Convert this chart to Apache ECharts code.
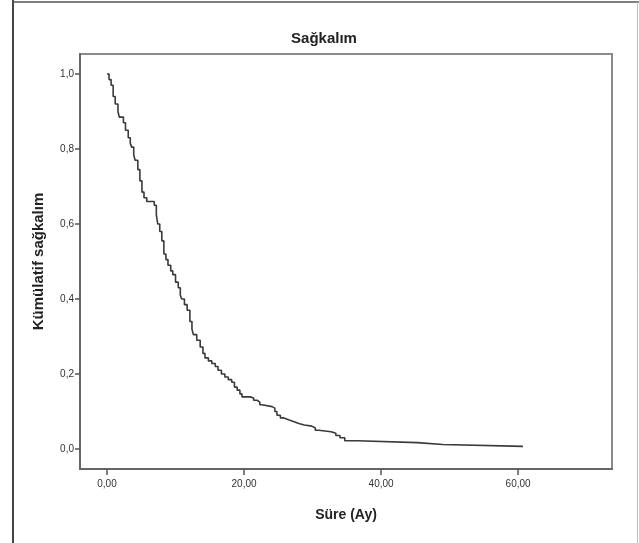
<!DOCTYPE html>
<html>
<head>
<meta charset="utf-8">
<script src="https://cdn.jsdelivr.net/npm/echarts@6/dist/echarts.min.js"></script>
<style>html,body{margin:0;padding:0;background:#fff;}#c{width:639px;height:543px;}</style>
</head>
<body>
<div id="c"></div>
<script>
// Kaplan-Meier survival estimates
const times = [0,0.3,0.6,0.9,1.2,1.6,1.8,2.4,2.7,3.1,3.4,3.6,3.9,4.1,4.5,4.8,5.1,5.4,5.8,6.9,7.2,7.4,7.7,8.0,8.3,8.6,8.9,9.3,9.6,10.0,10.4,10.7,10.9,11.3,11.7,12.1,12.4,12.6,13.1,13.6,14.0,14.3,14.8,15.3,15.8,16.2,16.7,17.2,17.7,18.2,18.6,19.0,19.4,19.7,20.9,21.4,21.9,22.3,22.6,24.1,24.5,24.8,25.3,25.8,26.5,27.3,28.0,28.8,29.9,30.4,30.9,32.7,33.4,34.0,34.7,36.6,45.3,49.0,60.7];
const survival = [1.0,0.985,0.97,0.94,0.92,0.90,0.885,0.87,0.85,0.83,0.815,0.805,0.785,0.77,0.745,0.715,0.685,0.67,0.66,0.65,0.625,0.60,0.58,0.555,0.52,0.505,0.49,0.475,0.465,0.445,0.43,0.41,0.40,0.385,0.37,0.34,0.32,0.305,0.29,0.272,0.255,0.243,0.235,0.228,0.22,0.21,0.20,0.192,0.185,0.178,0.165,0.157,0.147,0.139,0.136,0.13,0.125,0.118,0.113,0.109,0.10,0.09,0.083,0.078,0.073,0.068,0.064,0.061,0.056,0.05,0.046,0.042,0.036,0.03,0.022,0.017,0.012,0.007,0.007];
const xTicks = [0,20,40,60];
const yTicks = [0,0.2,0.4,0.6,0.8,1.0];

const data = times.map((t,i)=>[t, survival[i]]);
const chart = echarts.init(document.getElementById('c'));
const font = 'Liberation Sans, Arial, sans-serif';
chart.setOption({
  animation:false,
  backgroundColor:'#fff',
  title:{text:'Sağkalım', left:319, top:26, textAlign:'center',
    textStyle:{fontFamily:font, fontSize:15, fontWeight:'bold', color:'#222'}},
  grid:{left:80, right:27, top:54, bottom:74, show:true, borderColor:'#8a8a8a', borderWidth:2, backgroundColor:'#fff'},
  xAxis:{type:'value', min:-3.94, max:73.7,
    name:'Süre (Ay)', nameLocation:'middle', nameGap:39,
    nameTextStyle:{fontFamily:font, fontSize:14, fontWeight:'bold', color:'#222'},
    axisLine:{show:true, onZero:false, lineStyle:{color:'#666', width:2}},
    axisTick:{show:true, customValues:xTicks, length:6, lineStyle:{color:'#555', width:1.5}},
    axisLabel:{customValues:xTicks, fontFamily:font, fontSize:10, color:'#333', margin:10,
      formatter:v=>v.toFixed(2).replace('.',',')},
    splitLine:{show:false}},
  yAxis:{type:'value', min:-0.0533, max:1.0533,
    name:'Kümülatif sağkalım', nameLocation:'middle', nameGap:34, nameRotate:90,
    nameTextStyle:{fontFamily:font, fontSize:15, fontWeight:'bold', color:'#222'},
    axisLine:{show:true, onZero:false, lineStyle:{color:'#666', width:2}},
    axisTick:{show:true, customValues:yTicks, length:5, lineStyle:{color:'#555', width:1.5}},
    axisLabel:{customValues:yTicks, fontFamily:font, fontSize:10, color:'#333', margin:6,
      formatter:v=>v.toFixed(1).replace('.',',')},
    splitLine:{show:false}},
  series:[{type:'line', step:'end', data:data, showSymbol:false, symbol:'none',
    lineStyle:{color:'#3a3a3a', width:1.6}}],
  graphic:[
    {type:'line', shape:{x1:13,y1:0,x2:13,y2:543}, style:{stroke:'#444', lineWidth:2}},
    {type:'line', shape:{x1:13,y1:2,x2:639,y2:2}, style:{stroke:'#555', lineWidth:1.5}},
    {type:'line', shape:{x1:637.5,y1:2,x2:637.5,y2:543}, style:{stroke:'#bbb', lineWidth:1}}
  ]
});
</script>
</body>
</html>
